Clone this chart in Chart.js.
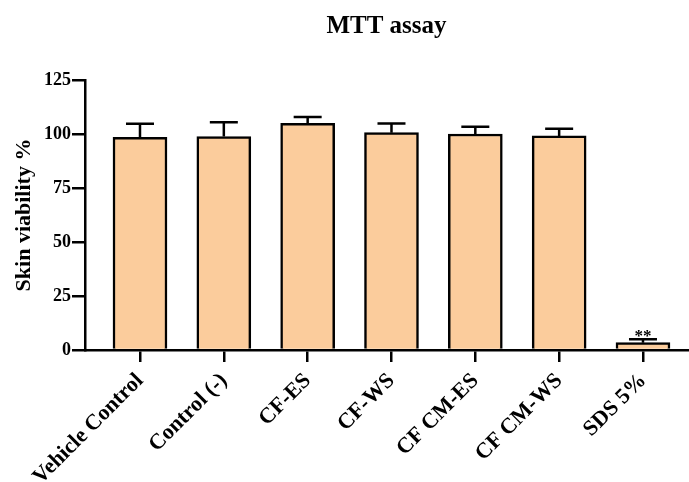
<!DOCTYPE html>
<html>
<head>
<meta charset="utf-8">
<script src="https://cdn.jsdelivr.net/npm/chart.js@4"></script>
<style>
    body { margin: 0; background: #fff; }
    #chart { display: block; }
</style>
</head>
<body>
<canvas id="chart" width="689" height="482"></canvas>
<script>
const categories = ['Vehicle Control', 'Control (-)', 'CF-ES', 'CF-WS', 'CF CM-ES', 'CF CM-WS', 'SDS 5%'];
const viability = [98.5, 98.8, 104.9, 100.6, 100.0, 99.1, 3.4];
const errors = [6.2, 6.6, 3.0, 4.3, 3.4, 3.3, 1.6];
const marks = ['', '', '', '', '', '', '**'];
const yTicks = [0, 25, 50, 75, 100, 125];

const serif = "'Liberation Serif', 'Times New Roman', serif";

// error bars (upper only) + significance stars
const errorBarPlugin = {
    id: 'errorBars',
    afterDatasetsDraw(chart) {
        const ctx = chart.ctx;
        const y = chart.scales.y;
        const meta = chart.getDatasetMeta(0);
        ctx.save();
        ctx.strokeStyle = '#000';
        ctx.lineWidth = 2.5;
        meta.data.forEach((bar, i) => {
            const top = y.getPixelForValue(viability[i]);
            const cap = y.getPixelForValue(viability[i] + errors[i]);
            ctx.beginPath();
            ctx.moveTo(bar.x, top);
            ctx.lineTo(bar.x, cap);
            ctx.moveTo(bar.x - 14, cap);
            ctx.lineTo(bar.x + 14, cap);
            ctx.stroke();
            if (marks[i]) {
                ctx.fillStyle = '#000';
                ctx.font = 'bold 17px ' + serif;
                ctx.textAlign = 'center';
                ctx.textBaseline = 'alphabetic';
                ctx.fillText(marks[i], bar.x, cap + 2);
            }
        });
        ctx.restore();
    }
};

new Chart(document.getElementById('chart'), {
    type: 'bar',
    data: {
        datasets: [{
            data: viability.map((v, i) => ({ x: i, y: v })),
            backgroundColor: '#FBCC9C',
            borderColor: '#000',
            borderWidth: 2.5,
            barThickness: 54
        }]
    },
    options: {
        responsive: false,
        animation: false,
        layout: { padding: { left: 10, right: 1, top: 0, bottom: 0 } },
        plugins: {
            legend: { display: false },
            tooltip: { enabled: false },
            title: {
                display: true,
                fullSize: false,
                text: 'MTT assay',
                color: '#000',
                font: { family: serif, size: 25, weight: 'bold' },
                padding: { top: 12, bottom: 38 }
            }
        },
        scales: {
            x: {
                type: 'linear',
                offset: false,
                min: -0.656,
                max: 6.537,
                afterBuildTicks: (scale) => {
                    scale.ticks = categories.map((c, i) => ({ value: i }));
                },
                afterFit: (scale) => { scale.height = 132; },
                grid: { display: true, offset: false, drawOnChartArea: false, drawTicks: true, tickLength: 12, color: '#000', lineWidth: 2.5 },
                border: { display: true, color: '#000', width: 2.5 },
                ticks: {
                    autoSkip: false,
                    minRotation: 45,
                    maxRotation: 45,
                    padding: 6,
                    color: '#000',
                    font: { family: serif, size: 22, weight: 'bold' },
                    callback: (v) => categories[v]
                }
            },
            y: {
                min: 0,
                max: 125,
                afterBuildTicks: (scale) => {
                    scale.ticks = yTicks.map(v => ({ value: v }));
                },
                afterFit: (scale) => { scale.width = 75; },
                grid: { display: true, drawOnChartArea: false, drawTicks: true, tickLength: 13, color: '#000', lineWidth: 2.5 },
                border: { display: true, color: '#000', width: 2.5 },
                title: {
                    display: true,
                    text: 'Skin viability %',
                    color: '#000',
                    font: { family: serif, size: 22, weight: 'bold' },
                    padding: { top: 1, bottom: 3 }
                },
                ticks: {
                    padding: 1,
                    color: '#000',
                    font: { family: serif, size: 18, weight: 'bold' }
                }
            }
        }
    },
    plugins: [errorBarPlugin]
});
</script>
</body>
</html>
